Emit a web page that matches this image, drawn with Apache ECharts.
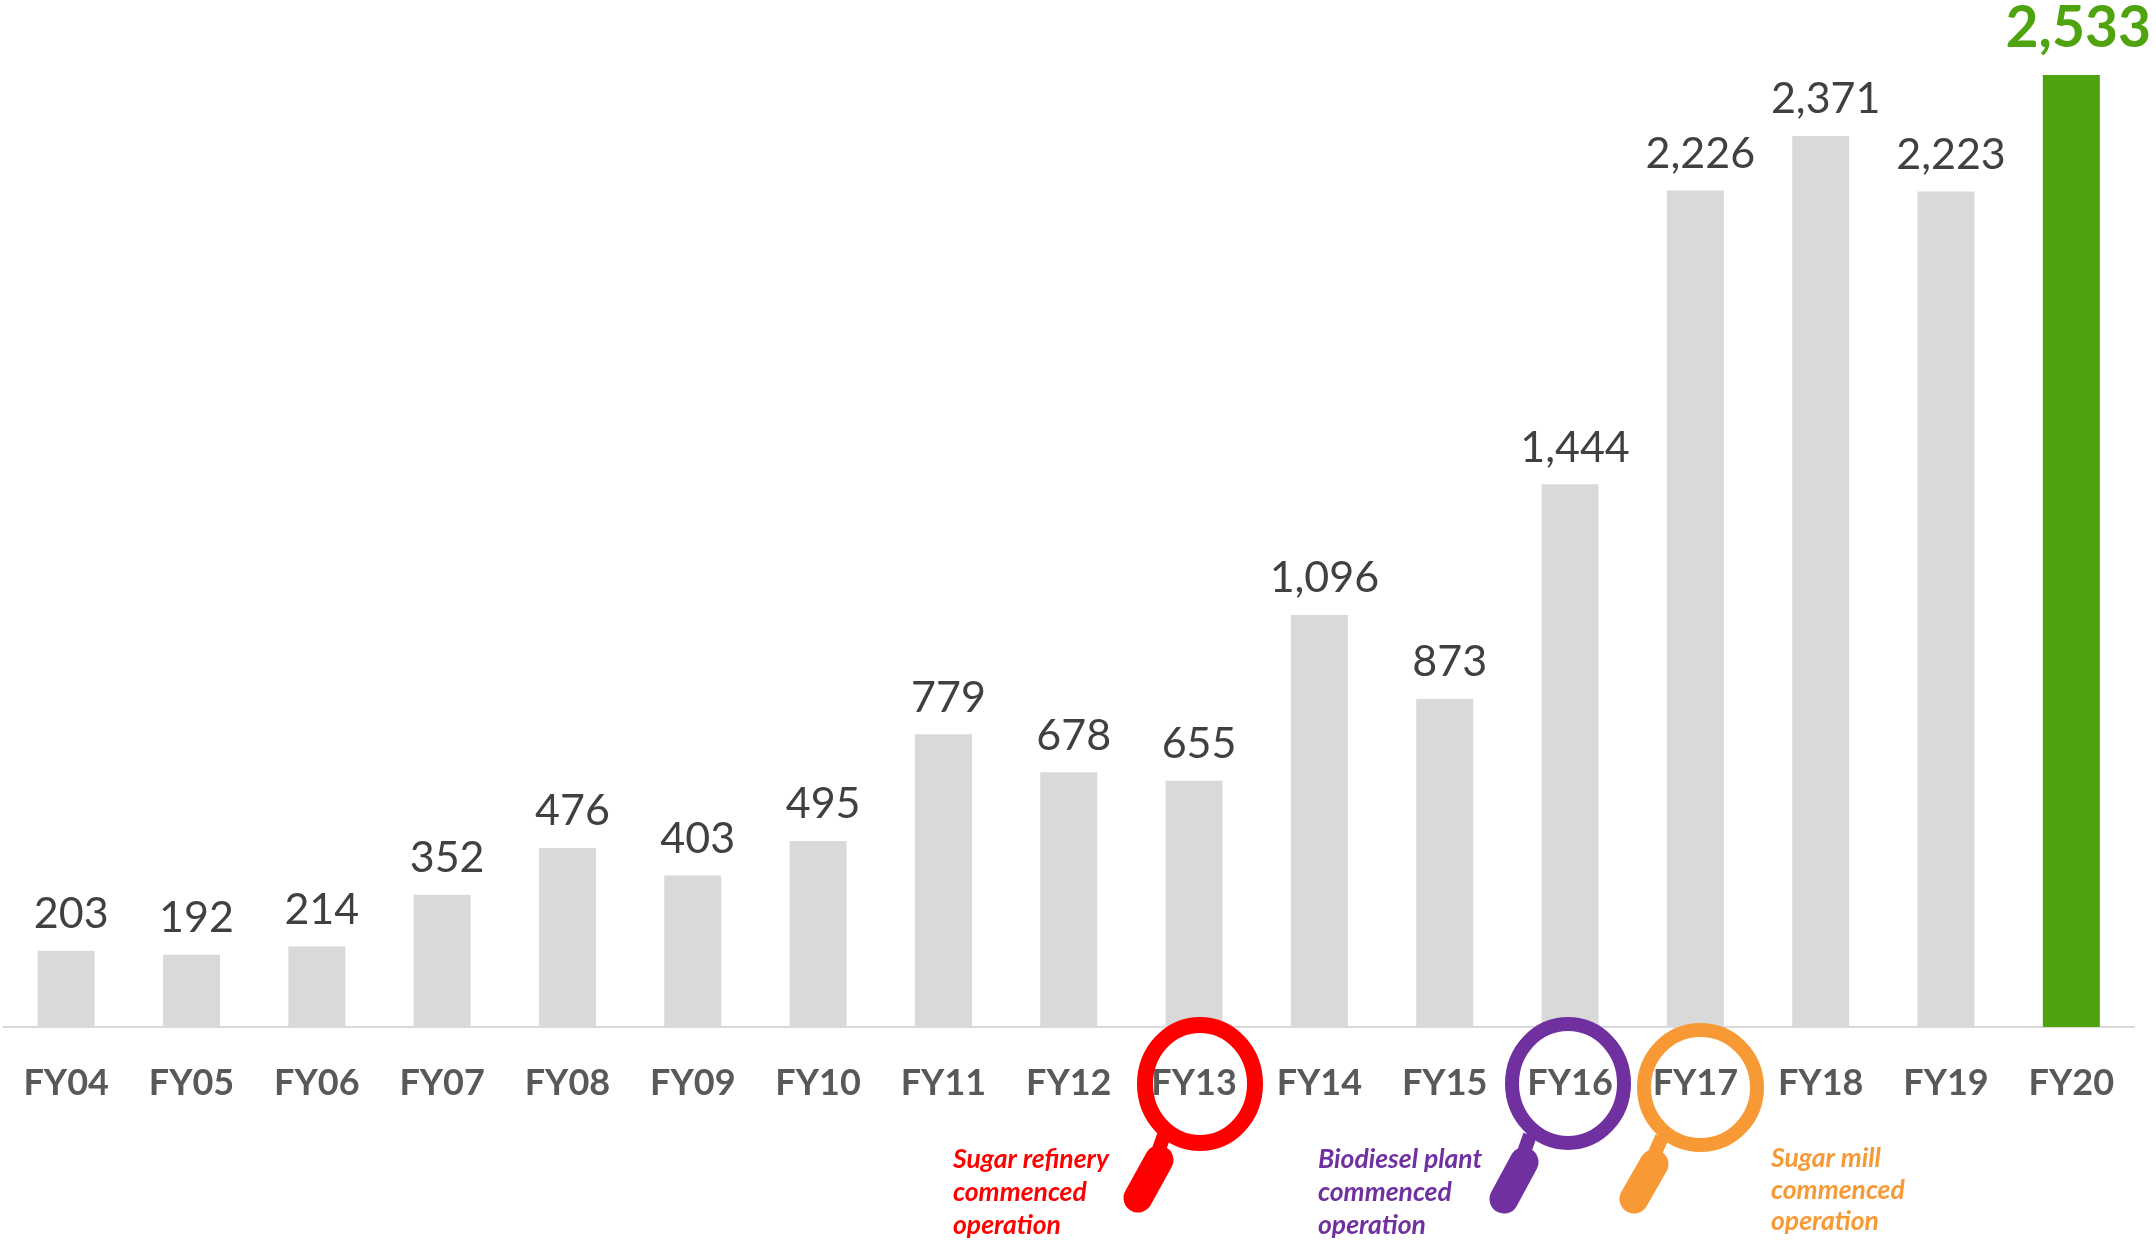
<!DOCTYPE html>
<html>
<head>
<meta charset="utf-8">
<style>
  html, body { margin: 0; padding: 0; background: #fff; }
  #main { width: 2156px; height: 1240px; }
</style>
<script src="https://cdn.jsdelivr.net/npm/echarts@6/dist/echarts.min.js"></script>
</head>
<body>
<div id="main"></div>
<script>
var categories = ['FY04', 'FY05', 'FY06', 'FY07', 'FY08', 'FY09', 'FY10', 'FY11', 'FY12', 'FY13', 'FY14', 'FY15', 'FY16', 'FY17', 'FY18', 'FY19', 'FY20'];
var values = [203, 192, 214, 352, 476, 403, 495, 779, 678, 655, 1096, 873, 1444, 2226, 2371, 2223, 2533];
var noteTexts = ['Sugar refinery\ncommenced\noperation', 'Biodiesel plant\ncommenced\noperation', 'Sugar mill\ncommenced\noperation'];

var FONT = 'Lato';
var GREY = '#D9D9D9';
var GREEN = '#4EA30E';

// magnifier glass + its annotation
function magnifier(color, cx, cy, rx, ry, lw, neck, grip) {
  return [
    { type: 'ellipse', z: 10, shape: { cx: cx, cy: cy, rx: rx, ry: ry }, style: { fill: 'none', stroke: color, lineWidth: lw } },
    { type: 'line', z: 10, shape: { x1: neck[0], y1: neck[1], x2: neck[2], y2: neck[3] }, style: { stroke: color, lineWidth: 14 } },
    { type: 'line', z: 10, shape: { x1: grip[0], y1: grip[1], x2: grip[2], y2: grip[3] }, style: { stroke: color, lineWidth: 29, lineCap: 'round' } }
  ];
}
function note(text, color, x, y, lh) {
  return {
    type: 'text', z: 10, x: x, y: y,
    style: { text: text, fill: color, font: 'italic bold 26.5px ' + FONT, lineHeight: lh, textVerticalAlign: 'top' }
  };
}

var graphics = []
  .concat(magnifier('#FF0000', 1200, 1084, 55, 59, 16, [1164, 1135, 1156, 1158], [1159, 1160, 1138, 1198]))
  .concat(magnifier('#7030A0', 1568, 1083.5, 56, 59.5, 14, [1530, 1135, 1522, 1158], [1524, 1162, 1504, 1199]))
  .concat(magnifier('#F79A36', 1700.5, 1087.5, 56.5, 57.5, 14, [1662, 1137, 1652, 1160], [1654, 1164, 1634, 1199]));
graphics.push(note(noteTexts[0], '#FF0000', 953, 1143, 33));
graphics.push(note(noteTexts[1], '#7030A0', 1318, 1143, 33));
graphics.push(note(noteTexts[2], '#F79A36', 1771, 1143, 31.5));

var seriesData = values.map(function (v, i) {
  var last = i === values.length - 1;
  return {
    value: v,
    itemStyle: { color: last ? GREEN : GREY },
    label: last
      ? { color: GREEN, fontSize: 57, fontWeight: 'bold', distance: 18, offset: [7, 0] }
      : { color: '#404040', fontSize: 43, distance: 15, offset: [5, 0] }
  };
});

var myChart = echarts.init(document.getElementById('main'), null, { renderer: 'canvas' });
myChart.setOption({
  animation: false,
  backgroundColor: '#fff',
  textStyle: { fontFamily: FONT },
  grid: { left: 3.5, right: 22, top: 75, bottom: 213, containLabel: false },
  xAxis: {
    type: 'category',
    data: categories,
    axisLine: { lineStyle: { color: GREY, width: 2 } },
    axisTick: { show: false },
    axisLabel: { color: '#595959', fontSize: 36, fontWeight: 'bold', fontFamily: FONT, margin: 38, interval: 0 }
  },
  yAxis: { type: 'value', min: 0, max: 2533, show: false, splitLine: { show: false } },
  series: [{
    type: 'bar',
    data: seriesData,
    barWidth: 57,
    label: {
      show: true,
      position: 'top',
      fontFamily: FONT,
      formatter: function (p) { return p.value.toLocaleString('en-US'); }
    }
  }],
  graphic: graphics
});
</script>
</body>
</html>
